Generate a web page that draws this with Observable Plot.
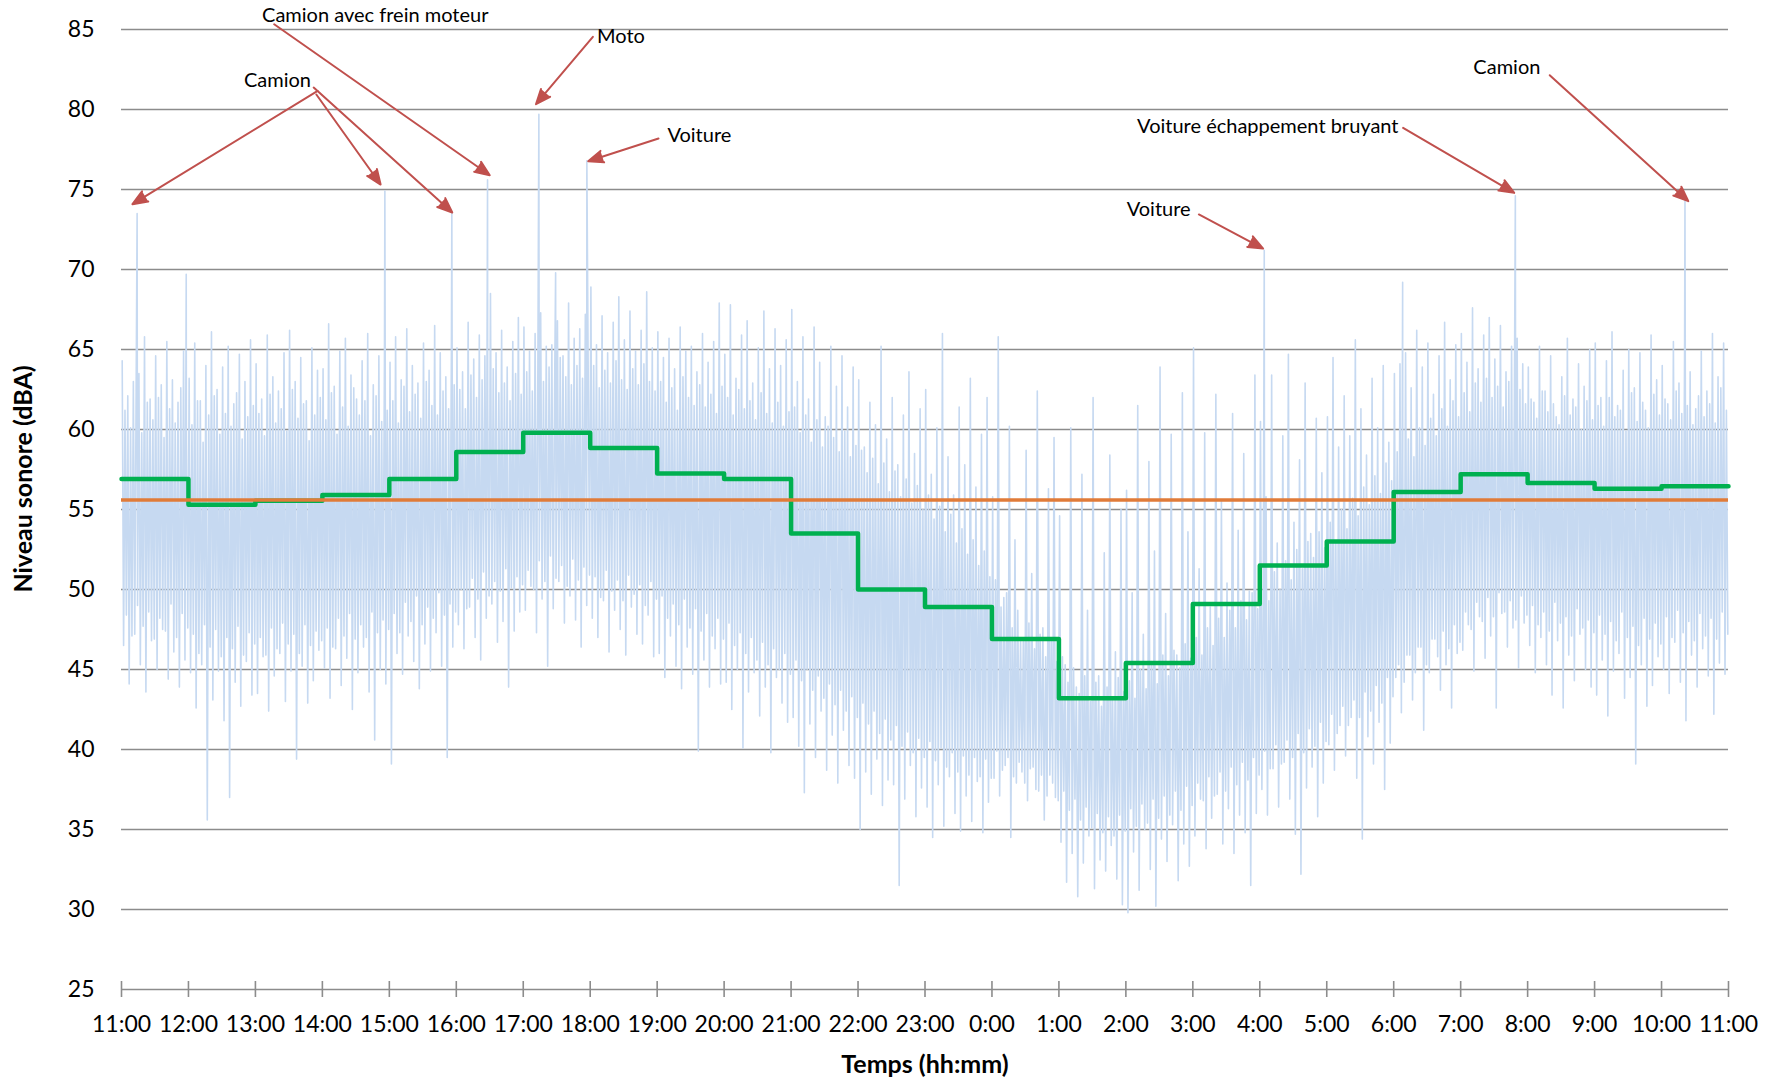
<!DOCTYPE html>
<html>
<head>
<meta charset="utf-8">
<script src="https://cdn.jsdelivr.net/npm/d3@7"></script>
<script src="https://cdn.jsdelivr.net/npm/@observablehq/plot@0.6"></script>
<style>
  html, body { margin: 0; padding: 0; background: #fff; }
  #chart svg { display: block; }
</style>
</head>
<body>
<div id="chart"></div>
<script>
// ---------- DATA ----------
// x tick labels (hours after 11:00)
const hourLabels = ["11:00","12:00","13:00","14:00","15:00","16:00","17:00","18:00","19:00","20:00",
  "21:00","22:00","23:00","0:00","1:00","2:00","3:00","4:00","5:00","6:00","7:00","8:00","9:00","10:00","11:00"];
const yTicks = [25, 30, 35, 40, 45, 50, 55, 60, 65, 70, 75, 80, 85];

// hourly Leq (green step line), 11:00 -> 11:00
const hourlyLeq = [56.9, 55.3, 55.55, 55.9, 56.9, 58.6, 59.8, 58.85, 57.25, 56.9, 53.5, 50.0,
  48.9, 46.9, 43.2, 45.4, 49.1, 51.5, 53.0, 56.1, 57.2, 56.65, 56.3, 56.45];
// 24 h Leq (orange line)
const dailyLeq = 55.6;

// instantaneous level, per 5-minute slot (12 per hour):
// outer max / min of the slot
const levelHigh = [
  64.3, 62.1, 63.0, 63.5, 65.8, 61.9, 64.6, 62.8, 65.5, 63.1, 61.7, 64.9,
  63.2, 65.4, 61.8, 64.0, 66.1, 62.5, 63.9, 65.2, 61.6, 64.7, 63.0, 65.6,
  64.1, 61.9, 65.9, 63.3, 62.4, 64.8, 66.2, 63.0, 64.5, 61.8, 65.1, 63.7,
  63.8, 66.6, 62.7, 64.9, 65.7, 63.4, 61.9, 64.3, 66.0, 62.8, 64.6, 64.2,
  64.2, 65.8, 63.1, 66.3, 64.0, 62.9, 65.4, 63.7, 66.5, 64.8, 63.3, 65.0,
  65.1, 63.6, 66.7, 64.4, 65.9, 64.6, 68.5, 64.8, 66.2, 63.9, 65.5, 67.0,
  66.4, 64.9, 66.0, 67.3, 65.2, 65.3, 66.8, 64.6, 67.9, 65.7, 66.3, 67.2,
  68.9, 65.3, 67.1, 64.8, 66.7, 68.3, 65.6, 67.4, 64.9, 66.2, 68.6, 65.1,
  66.1, 64.5, 65.7, 63.8, 66.4, 64.9, 65.2, 63.6, 66.0, 64.2, 65.5, 67.9,
  64.7, 67.8, 63.2, 65.9, 66.8, 62.9, 65.1, 67.4, 63.8, 66.3, 64.0, 65.6,
  67.5, 63.0, 65.8, 61.9, 66.4, 64.2, 60.8, 65.2, 62.7, 64.6, 61.4, 63.9,
  63.1, 58.9, 61.7, 60.3, 65.2, 59.4, 62.0, 57.8, 60.9, 63.6, 58.5, 61.3,
  62.5, 57.2, 60.1, 66.0, 58.3, 55.9, 61.4, 57.8, 63.2, 56.4, 59.7, 62.0,
  55.8, 65.8, 49.5, 60.2, 53.1, 46.8, 58.7, 51.0, 62.4, 47.6, 56.3, 59.5,
  54.6, 45.3, 60.1, 43.9, 57.2, 48.7, 62.0, 44.6, 52.3, 58.4, 46.1, 55.0,
  56.2, 49.8, 61.5, 47.2, 58.0, 52.4, 63.9, 48.5, 59.7, 45.9, 62.3, 53.6,
  65.1, 51.3, 59.8, 48.9, 62.2, 55.6, 50.4, 61.0, 53.7, 58.5, 49.9, 63.4,
  60.5, 55.8, 63.4, 52.9, 59.6, 64.7, 54.2, 58.1, 62.9, 53.5, 60.7, 57.3,
  60.8, 64.5, 58.9, 62.1, 59.6, 65.6, 61.3, 58.4, 63.2, 60.1, 64.0, 59.2,
  63.5, 64.1, 64.8, 62.6, 66.2, 63.9, 65.4, 62.2, 64.6, 66.7, 63.1, 65.3,
  66.0, 64.2, 67.6, 63.8, 65.9, 67.0, 64.4, 66.5, 63.6, 65.2, 65.7, 64.1,
  63.9, 61.7, 65.2, 62.4, 64.6, 60.8, 63.3, 65.7, 61.9, 64.1, 62.7, 65.0,
  65.4, 62.0, 64.3, 66.1, 61.5, 63.7, 65.0, 62.6, 64.8, 61.2, 65.9, 63.1,
  64.0, 61.6, 65.5, 62.9, 64.4, 63.6, 61.3, 64.9, 62.4, 66.0, 63.3, 65.4
];
const levelLow = [
  46.5, 44.1, 47.2, 45.3, 43.6, 46.8, 45.0, 47.5, 44.4, 46.1, 43.9, 45.6,
  44.8, 42.6, 45.3, 35.6, 43.1, 44.9, 41.8, 37.0, 44.2, 42.7, 45.5, 43.4,
  43.5, 45.8, 42.4, 44.6, 46.0, 43.0, 44.9, 39.4, 45.2, 42.9, 44.3, 46.2,
  45.1, 43.2, 46.3, 44.0, 45.7, 42.5, 44.8, 46.4, 43.6, 40.6, 45.0, 44.1,
  39.1, 46.0, 44.7, 47.1, 45.5, 43.8, 46.6, 44.9, 47.3, 45.2, 39.5, 46.4,
  47.8, 46.3, 48.9, 47.0, 45.6, 48.2, 49.1, 46.7, 48.0, 43.9, 47.4, 48.6,
  48.7, 50.2, 47.3, 49.4, 45.2, 48.8, 50.5, 47.9, 49.6, 48.1, 46.4, 49.0,
  48.2, 47.0, 49.3, 46.1, 48.7, 47.5, 45.9, 48.9, 47.2, 46.6, 48.4, 45.8,
  46.0, 44.5, 47.1, 45.2, 43.8, 46.4, 44.7, 39.9, 45.6, 43.9, 46.3, 44.1,
  44.2, 42.5, 45.0, 40.1, 43.6, 44.8, 42.1, 43.9, 39.8, 44.5, 42.9, 41.7,
  42.0, 40.2, 37.3, 41.6, 39.5, 42.4, 38.7, 40.9, 37.9, 41.2, 39.0, 38.2,
  35.0, 38.6, 37.2, 39.4, 36.5, 38.1, 37.8, 31.5, 36.9, 39.0, 35.8, 37.6,
  36.4, 34.5, 37.8, 35.2, 38.3, 36.0, 34.9, 37.1, 35.5, 38.0, 34.8, 36.7,
  38.2, 37.1, 39.0, 34.5, 37.9, 38.6, 36.8, 38.9, 37.4, 35.6, 38.4, 37.0,
  34.2, 31.7, 33.5, 30.8, 32.9, 34.6, 31.3, 33.1, 32.4, 34.0, 31.9, 30.3,
  29.8, 33.6, 31.2, 35.0, 32.5, 30.2, 34.4, 33.0, 35.3, 31.8, 34.1, 32.7,
  34.6, 36.9, 33.8, 35.7, 37.2, 34.1, 36.3, 33.5, 35.9, 34.8, 31.5, 36.0,
  37.5, 35.9, 38.8, 36.4, 39.2, 36.9, 34.7, 32.2, 37.6, 38.9, 35.8, 37.9,
  40.3, 38.7, 41.5, 39.6, 42.0, 38.2, 34.4, 40.8, 39.1, 41.7, 37.5, 40.4,
  44.5, 42.3, 45.9, 43.1, 46.4, 41.2, 44.8, 46.9, 43.7, 45.3, 42.6, 46.0,
  46.2, 47.8, 44.9, 48.3, 45.7, 47.1, 42.6, 48.5, 46.4, 47.6, 45.1, 47.9,
  46.5, 44.8, 47.0, 45.3, 43.4, 46.8, 42.6, 45.9, 44.3, 47.2, 45.0, 43.9,
  43.4, 45.6, 42.1, 44.9, 46.0, 43.2, 44.5, 39.1, 45.3, 42.7, 44.0, 45.8,
  45.0, 43.5, 46.7, 44.2, 41.8, 45.9, 43.9, 46.3, 44.6, 42.2, 45.4, 44.7
];
// inner (typical) max / min of the same slots
const levelHigh2 = [
  61.2, 60.1, 62.4, 59.8, 61.7, 60.6, 62.0, 59.5, 61.3, 60.4, 62.6, 60.0,
  60.3, 61.8, 59.2, 60.9, 62.1, 59.7, 61.0, 60.2, 62.3, 59.4, 60.8, 61.5,
  61.0, 59.6, 62.2, 60.4, 61.3, 59.9, 62.5, 60.7, 61.6, 59.3, 60.9, 62.0,
  60.6, 62.3, 59.7, 61.4, 60.2, 62.6, 60.9, 61.8, 59.6, 62.1, 60.5, 61.2,
  61.8, 60.4, 62.7, 61.1, 62.2, 60.7, 63.0, 61.5, 60.9, 62.4, 61.3, 62.8,
  62.5, 61.3, 63.4, 62.0, 63.1, 61.6, 63.8, 62.3, 62.9, 61.8, 63.5, 62.2,
  63.6, 62.4, 64.2, 63.0, 63.9, 62.7, 64.5, 63.3, 62.8, 64.0, 63.2, 64.4,
  64.0, 62.6, 63.7, 62.9, 64.3, 63.1, 62.5, 63.8, 62.8, 64.1, 63.0, 62.4,
  63.0, 61.7, 62.6, 61.2, 63.3, 62.0, 61.5, 62.8, 61.4, 62.2, 61.0, 62.7,
  62.0, 60.9, 62.5, 61.3, 61.8, 60.6, 62.3, 61.0, 60.4, 61.7, 60.2, 61.1,
  61.4, 59.8, 60.9, 59.2, 60.6, 58.9, 60.2, 59.5, 58.6, 59.9, 58.3, 59.0,
  58.7, 57.3, 58.2, 56.6, 57.9, 56.1, 57.4, 55.8, 56.9, 55.4, 56.5, 55.0,
  55.9, 54.4, 55.2, 53.6, 54.7, 52.9, 53.8, 52.2, 53.1, 51.5, 52.4, 50.8,
  50.6, 48.9, 49.8, 47.6, 48.7, 46.9, 47.9, 46.3, 47.2, 45.8, 46.9, 45.5,
  45.8, 44.2, 45.1, 43.5, 44.6, 43.0, 44.2, 42.7, 43.9, 43.1, 44.5, 43.6,
  44.3, 43.2, 45.0, 43.8, 45.5, 44.1, 45.9, 44.6, 46.2, 45.1, 46.6, 45.7,
  47.0, 45.9, 47.6, 46.5, 48.2, 47.0, 48.7, 47.6, 49.3, 48.1, 49.8, 48.8,
  50.4, 49.3, 51.1, 50.0, 51.8, 50.6, 52.5, 51.3, 53.0, 52.0, 53.6, 52.6,
  54.2, 53.0, 55.0, 53.8, 55.7, 54.6, 56.4, 55.3, 57.1, 56.0, 57.9, 56.8,
  58.6, 57.6, 59.4, 58.3, 60.1, 59.0, 60.7, 59.6, 61.3, 60.2, 61.8, 60.8,
  62.3, 61.1, 62.9, 61.7, 63.2, 62.0, 62.7, 61.4, 63.0, 61.9, 62.5, 61.6,
  61.9, 60.7, 62.4, 61.1, 61.6, 60.3, 62.1, 60.9, 61.4, 60.0, 61.8, 60.6,
  61.5, 60.2, 62.0, 60.8, 61.2, 59.9, 62.3, 60.5, 61.7, 60.1, 62.2, 60.9,
  61.9, 60.6, 62.4, 61.0, 61.5, 60.3, 62.1, 60.8, 61.6, 60.4, 62.6, 61.2
];
const levelLow2 = [
  48.4, 47.1, 49.0, 47.7, 48.6, 46.9, 48.2, 47.4, 49.1, 47.0, 48.5, 47.6,
  47.2, 46.0, 47.8, 46.4, 47.5, 45.8, 47.0, 46.3, 47.7, 45.9, 47.3, 46.6,
  47.0, 45.9, 47.6, 46.3, 47.9, 46.6, 47.2, 46.0, 47.8, 46.5, 47.4, 46.8,
  47.6, 46.4, 48.2, 47.1, 48.5, 46.9, 47.8, 47.0, 48.6, 47.3, 48.1, 47.5,
  48.5, 47.3, 49.2, 48.0, 49.6, 47.8, 48.9, 48.2, 49.8, 48.4, 49.1, 48.6,
  50.0, 48.8, 50.7, 49.4, 51.1, 49.6, 50.5, 49.9, 51.3, 50.1, 50.8, 50.3,
  51.2, 50.0, 51.8, 50.5, 52.1, 50.7, 51.5, 50.2, 51.9, 50.6, 51.4, 50.9,
  50.8, 49.5, 51.2, 49.9, 50.6, 49.3, 50.9, 49.7, 50.3, 49.0, 50.5, 49.4,
  49.6, 48.2, 49.1, 47.8, 49.4, 47.6, 48.8, 47.4, 48.5, 47.1, 48.2, 46.9,
  47.9, 46.5, 47.3, 46.0, 47.0, 45.6, 46.7, 45.3, 46.3, 45.0, 46.0, 44.7,
  45.6, 44.3, 45.0, 43.7, 44.6, 43.2, 44.1, 42.8, 43.7, 42.4, 43.3, 42.0,
  42.9, 41.6, 42.4, 41.0, 41.9, 40.6, 41.5, 40.2, 41.1, 39.8, 40.7, 39.5,
  40.5, 39.3, 40.1, 38.9, 39.8, 38.6, 39.6, 38.4, 39.5, 38.3, 39.4, 38.2,
  39.9, 38.7, 39.5, 38.3, 39.2, 37.9, 38.8, 37.5, 38.4, 37.1, 37.9, 36.8,
  37.4, 36.2, 36.9, 35.6, 36.4, 35.1, 36.0, 34.8, 35.8, 34.6, 35.9, 34.9,
  36.3, 35.2, 36.6, 35.4, 36.9, 35.7, 37.1, 35.9, 37.4, 36.2, 37.7, 36.5,
  37.9, 36.8, 38.3, 37.1, 38.6, 37.4, 38.9, 37.8, 39.2, 38.1, 39.5, 38.4,
  39.9, 38.8, 40.3, 39.1, 40.6, 39.5, 41.0, 39.8, 41.3, 40.2, 41.7, 40.5,
  42.2, 41.0, 42.7, 41.5, 43.1, 42.0, 43.6, 42.4, 44.0, 42.9, 44.5, 43.3,
  45.3, 44.2, 45.9, 44.8, 46.4, 45.3, 46.9, 45.8, 47.4, 46.3, 47.8, 46.7,
  48.6, 47.5, 49.2, 48.0, 49.5, 48.3, 49.8, 48.6, 49.3, 48.1, 49.6, 48.4,
  49.0, 47.8, 48.6, 47.4, 49.2, 47.9, 48.3, 47.1, 48.8, 47.6, 48.1, 47.3,
  48.4, 47.2, 48.0, 46.8, 48.6, 47.0, 47.7, 46.5, 48.2, 46.9, 47.9, 46.6,
  48.3, 47.0, 48.7, 47.3, 48.0, 46.8, 48.5, 47.1, 48.2, 46.9, 48.6, 47.2
];

// isolated noise events (peaks)
const spikeTimes  = ["11:14","11:58","14:56","15:56","16:28","17:14","17:29","17:57","4:04","6:08","7:49","10:21"];
const spikeLevels = [73.5, 69.7, 74.9, 73.6, 75.6, 79.7, 69.8, 76.8, 71.2, 69.2, 74.6, 74.3];

// annotations (x in hours after 11:00, y in dBA)
const noteText = ["Camion avec frein moteur", "Camion", "Moto", "Voiture", "Voiture", "Voiture échappement bruyant", "Camion"];
const noteX = [3.79, 2.33, 7.46, 8.63, 15.49, 17.12, 20.69];
const noteY = [85.9, 81.8, 84.55, 78.4, 73.76, 78.91, 82.6];
const arrowX1 = [2.28, 2.93, 2.91, 2.87, 7.04, 8.02, 16.09, 19.14, 21.33];
const arrowY1 = [85.33, 81.16, 80.94, 81.37, 84.54, 78.19, 73.44, 78.85, 82.14];
const arrowX2 = [5.50, 0.164, 3.87, 4.94, 6.19, 6.97, 17.05, 20.80, 23.40];
const arrowY2 = [75.89, 74.08, 75.31, 73.56, 80.33, 76.77, 71.31, 74.79, 74.27];

// ---------- BUILD ----------
const toHours = (s) => {
  const [h, m] = s.split(":").map(Number);
  return (((h * 60 + m) - 660 + 1440) % 1440) / 60;
};

// order within each 5-minute slot: outer max, outer min, inner max, inner min
const series = [];
levelHigh.forEach((v, i) => {
  series.push({t: (i * 5 + 0.625) / 60, v: v});
  series.push({t: (i * 5 + 1.875) / 60, v: levelLow[i]});
  series.push({t: (i * 5 + 3.125) / 60, v: levelHigh2[i]});
  series.push({t: (i * 5 + 4.375) / 60, v: levelLow2[i]});
});
spikeTimes.forEach((s, i) => series.push({t: toHours(s), v: spikeLevels[i]}));
series.sort((a, b) => a.t - b.t);

const steps = hourlyLeq.map((v, i) => ({t: i, v}));
steps.push({t: hourlyLeq.length, v: hourlyLeq[hourlyLeq.length - 1]});

const notes = noteText.map((text, i) => ({text, x: noteX[i], y: noteY[i]}));
const arrows = arrowX1.map((x1, i) => ({x1, y1: arrowY1[i], x2: arrowX2[i], y2: arrowY2[i]}));
const hourTicks = d3.range(hourLabels.length);

const GRID = "#8c8c8c";
const BLUE = "#c6d9f1";

const chart = Plot.plot({
  width: 1782,
  height: 1081,
  marginLeft: 121,
  marginRight: 54,
  marginTop: 29,
  marginBottom: 92,
  style: {fontFamily: "Lato, 'Open Sans', sans-serif", color: "#000", background: "#fff", overflow: "visible"},
  x: {domain: [0, 24]},
  y: {domain: [25, 85]},
  marks: [
    Plot.ruleY(yTicks, {stroke: GRID, strokeWidth: 1.6}),
    Plot.ruleX(hourTicks, {x: d => d, y1: 25, y2: 25, insetTop: -8, insetBottom: -8, stroke: GRID, strokeWidth: 1.6}),
    Plot.line(series, {x: "t", y: "v", stroke: BLUE, strokeWidth: 1.6}),
    Plot.line(steps, {x: "t", y: "v", curve: "step-after", stroke: "#00b050", strokeWidth: 4.5, strokeLinejoin: "round", strokeLinecap: "round"}),
    Plot.ruleY([dailyLeq], {x1: 0, x2: 24, stroke: "#e07b39", strokeWidth: 3.5}),
    Plot.axisY({ticks: yTicks, tickSize: 0, tickPadding: 27, fontSize: 23, label: null}),
    Plot.axisX({ticks: hourTicks, tickFormat: i => hourLabels[i], tickSize: 0, tickPadding: 26, fontSize: 23, label: null}),
    Plot.text(["Niveau sonore (dBA)"], {frameAnchor: "left", dx: -98, dy: -30.5, rotate: -90, textAnchor: "middle", lineAnchor: "middle", fontSize: 25, fontWeight: "bold"}),
    Plot.text(["Temps (hh:mm)"], {frameAnchor: "bottom", dy: 75, textAnchor: "middle", lineAnchor: "middle", fontSize: 25, fontWeight: "bold"}),
    Plot.arrow(arrows, {x1: "x1", y1: "y1", x2: "x2", y2: "y2", stroke: "#c0504d", fill: "#c0504d", strokeWidth: 2, headLength: 12, headAngle: 44}),
    Plot.text(notes, {x: "x", y: "y", text: "text", fontSize: 20, textAnchor: "middle", lineAnchor: "middle", fill: "#000"})
  ]
});
document.getElementById("chart").appendChild(chart);
</script>
</body>
</html>
